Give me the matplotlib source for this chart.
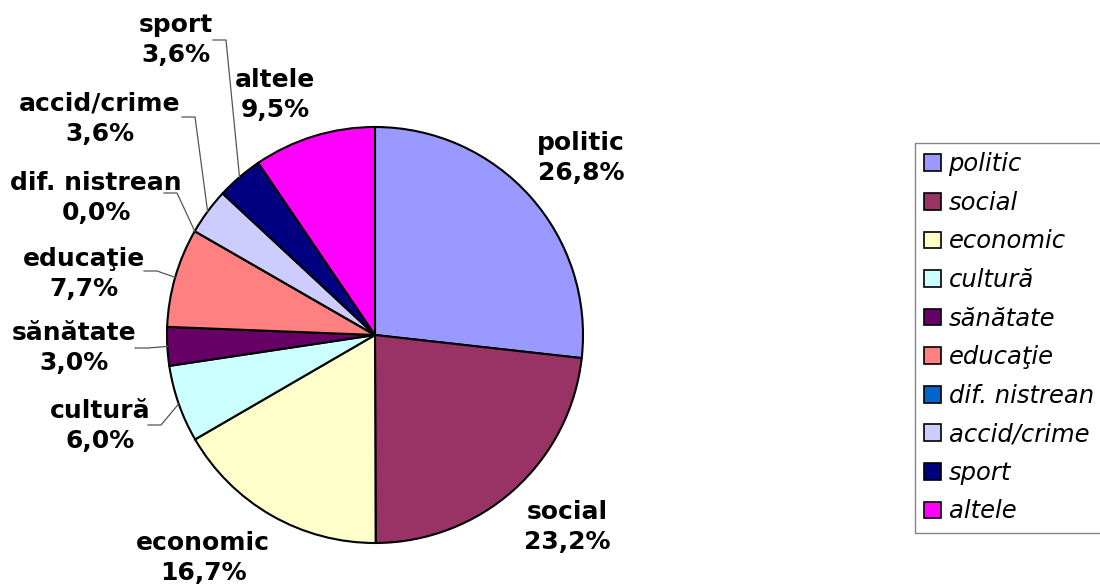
import matplotlib.pyplot as plt
from matplotlib.patches import Patch
import numpy as np

categories = ["politic", "social", "economic", "cultură", "sănătate",
              "educaţie", "dif. nistrean", "accid/crime", "sport", "altele"]
values = [26.8, 23.2, 16.7, 6.0, 3.0, 7.7, 0.0, 3.6, 3.6, 9.5]
value_labels = ["26,8%", "23,2%", "16,7%", "6,0%", "3,0%",
                "7,7%", "0,0%", "3,6%", "3,6%", "9,5%"]
colors = ["#9999FF", "#993366", "#FFFFCC", "#CCFFFF", "#660066",
          "#FF8080", "#0066CC", "#CCCCFF", "#000080", "#FF00FF"]

# label centres (pixel layout, y from top)
label_pos = [(581, 158), (567, 527), (203, 558), (100, 426), (74, 348),
             (84, 274), (96, 198), (100, 119), (176, 40), (275, 95)]
# where the leader line leaves the label (None = no leader)
leader_start = [None, None, None, (148, 425), (135, 348),
                (144, 271), (164, 193), (182, 117), (213, 40), None]

W, H = 1100, 584
fig = plt.figure(figsize=(W / 100, H / 100), dpi=100)
ax = fig.add_axes([0, 0, 1, 1])

cx, cy, r = 375, 335, 208
# y axis is inverted, so counterclock=True here draws clockwise on screen
wedges, _ = ax.pie(values, colors=colors, startangle=-90, counterclock=True,
                   center=(cx, cy), radius=r, frame=True,
                   wedgeprops=dict(edgecolor="black", linewidth=1.5))
ax.set_xlim(0, W)
ax.set_ylim(H, 0)
ax.axis("off")
ax.set_aspect("equal")

for i, w in enumerate(wedges):
    lx, ly = label_pos[i]
    ax.text(lx, ly, categories[i] + "\n" + value_labels[i], ha="center", va="center",
            fontsize=18, fontweight="bold", family="DejaVu Sans", linespacing=1.32)
    if leader_start[i] is not None:
        sx, sy = leader_start[i]
        mid = np.deg2rad((w.theta1 + w.theta2) / 2)
        ex, ey = cx + r * np.cos(mid), cy + r * np.sin(mid)
        ax.plot([sx, sx + 13, ex], [sy, sy, ey], color="#555555", lw=0.9)

handles = [Patch(facecolor=c, edgecolor="black", linewidth=1.2) for c in colors]
fig.legend(handles, categories, loc="upper left",
           bbox_to_anchor=(915 / W, 1 - 143 / H), borderaxespad=0,
           prop=dict(family="DejaVu Sans", style="italic", size=17.5),
           frameon=True, fancybox=False, edgecolor="#666666",
           handlelength=0.68, handleheight=0.68, handletextpad=0.32,
           labelspacing=0.6, borderpad=0.38)

fig.savefig("out.png", dpi=100)
